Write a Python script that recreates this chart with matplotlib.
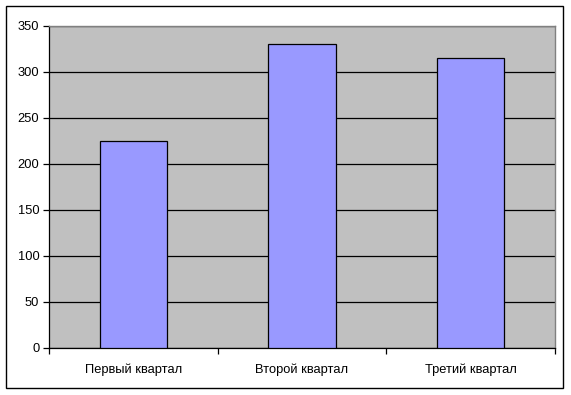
import matplotlib
matplotlib.use("Agg")
import matplotlib.pyplot as plt
from matplotlib.patches import Rectangle

categories = ["Первый квартал", "Второй квартал", "Третий квартал"]
values = [225, 330, 315]
yticks = [0, 50, 100, 150, 200, 250, 300, 350]

plt.rcParams['font.family'] = ['Liberation Sans', 'DejaVu Sans']

fig = plt.figure(figsize=(5.71, 3.95), dpi=100)
fig.patch.set_facecolor('white')
fig.patches.append(Rectangle((6/571, 1 - 388/395), (563-6)/571, (388-6)/395,
                             transform=fig.transFigure, fill=False,
                             edgecolor='black', linewidth=1.0))

L, R, T, B = 49, 555, 26, 348
ax = fig.add_axes([L/571, 1 - B/395, (R-L)/571, (B-T)/395])
ax.set_facecolor('#C0C0C0')

x = list(range(len(categories)))
ax.set_axisbelow(True)
ax.yaxis.grid(True, color='black', linewidth=0.9)
ax.bar(x, values, width=0.4, color='#9999FF', edgecolor='black', linewidth=0.9, zorder=3)

ax.set_xlim(-0.5, len(categories) - 0.5)
ax.set_ylim(0, 350)
ax.set_yticks(yticks)
ax.set_yticklabels([str(v) for v in yticks], fontsize=9.3)
ax.set_xticks(x)
ax.set_xticklabels(categories, fontsize=9.3)
ax.tick_params(axis='x', length=0, pad=11)
ax.set_xticks([-0.5, 0.5, 1.5, 2.5], minor=True)
ax.tick_params(axis='x', which='minor', length=4, width=0.9, color='black', direction='out')
ax.tick_params(axis='y', length=4, width=0.9, color='black', direction='out', pad=3)

for s in ['top', 'right']:
    ax.spines[s].set_color('#808080')
    ax.spines[s].set_linewidth(1.0)
for s in ['left', 'bottom']:
    ax.spines[s].set_color('black')
    ax.spines[s].set_linewidth(0.9)

fig.savefig("out.png", dpi=100)
